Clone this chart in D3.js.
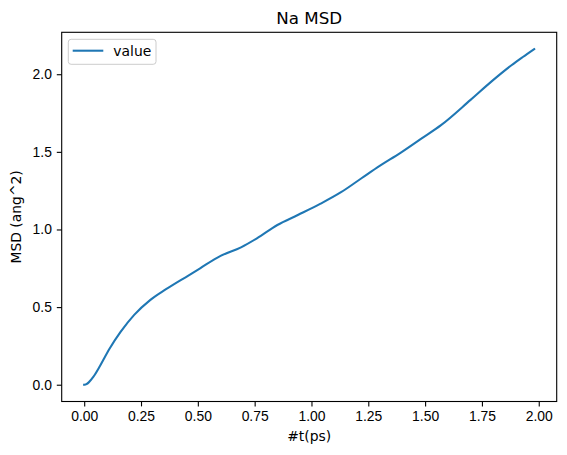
<!DOCTYPE html>
<html>
<head>
<meta charset="utf-8">
<script src="https://cdn.jsdelivr.net/npm/d3@7"></script>
<style>
  body { margin: 0; background: #fff; }
  svg { font-family: "DejaVu Sans", sans-serif; }
  .tick text { font-size: 13.9px; fill: #000; }
  .tick line { stroke: #000; stroke-width: 1.1; }
  .domain { display: none; }
</style>
</head>
<body>
<div id="chart"></div>
<script>
// data (time in ps, MSD in ang^2)
var times = [0, 0.01, 0.02, 0.04, 0.07, 0.11, 0.16, 0.22, 0.29, 0.36, 0.46, 0.51, 0.60, 0.69, 0.76,
             0.85, 0.94, 1.04, 1.13, 1.22, 1.30, 1.39, 1.48, 1.57, 1.70, 1.79, 1.88, 1.93, 1.98];
var msd = [0, 0.004, 0.015, 0.05, 0.122, 0.228, 0.34, 0.45, 0.545, 0.615, 0.705, 0.75, 0.83, 0.885, 0.943,
           1.029, 1.093, 1.166, 1.24, 1.33, 1.41, 1.492, 1.582, 1.672, 1.835, 1.951, 2.058, 2.111, 2.162];
var xTicks = [0, 0.25, 0.5, 0.75, 1.0, 1.25, 1.5, 1.75, 2.0];
var yTicks = [0, 0.5, 1.0, 1.5, 2.0];
var seriesName = "value";

var W = 567, H = 455;
var margin = {top: 32.3, right: 10.3, bottom: 53.5, left: 61.7},
    width = W - margin.left - margin.right,
    height = H - margin.top - margin.bottom;

var svg = d3.select("#chart").append("svg")
    .attr("width", W)
    .attr("height", H);

var g = svg.append("g")
    .attr("transform", "translate(" + margin.left + "," + margin.top + ")");

// matplotlib-style 5% margins
var xmin = d3.min(times), xmax = d3.max(times),
    ymin = d3.min(msd), ymax = d3.max(msd);
var xpad = (xmax - xmin) * 0.05, ypad = (ymax - ymin) * 0.05;

var x = d3.scaleLinear().domain([xmin - xpad, xmax + xpad]).range([0, width]);
var y = d3.scaleLinear().domain([ymin - ypad, ymax + ypad]).range([height, 0]);

// axes
g.append("g")
    .attr("transform", "translate(0," + height + ")")
    .call(d3.axisBottom(x).tickValues(xTicks).tickFormat(d3.format(".2f"))
        .tickSizeInner(4.9).tickSizeOuter(0).tickPadding(4.9));

g.append("g")
    .call(d3.axisLeft(y).tickValues(yTicks).tickFormat(d3.format(".1f"))
        .tickSizeInner(4.9).tickSizeOuter(0).tickPadding(4.9));

// line
var line = d3.line()
    .x(function (d, i) { return x(times[i]); })
    .y(function (d) { return y(d); })
    .curve(d3.curveMonotoneX);

g.append("path")
    .datum(msd)
    .attr("d", line)
    .attr("fill", "none")
    .attr("stroke", "#1f77b4")
    .attr("stroke-width", 2.08)
    .attr("stroke-linecap", "square");

// frame
g.append("rect")
    .attr("width", width)
    .attr("height", height)
    .attr("fill", "none")
    .attr("stroke", "#000")
    .attr("stroke-width", 1.1);

// title and labels
svg.append("text")
    .attr("x", margin.left + width / 2)
    .attr("y", 24)
    .attr("text-anchor", "middle")
    .style("font-size", "16.7px")
    .text("Na MSD");

svg.append("text")
    .attr("x", margin.left + width / 2)
    .attr("y", 440.5)
    .attr("text-anchor", "middle")
    .style("font-size", "13.9px")
    .text("#t(ps)");

svg.append("text")
    .attr("transform", "translate(20.5," + (margin.top + height / 2) + ") rotate(-90)")
    .attr("text-anchor", "middle")
    .style("font-size", "13.9px")
    .text("MSD (ang^2)");

// legend
var leg = g.append("g").attr("transform", "translate(6.6,7)");
leg.append("rect")
    .attr("width", 87.7)
    .attr("height", 25)
    .attr("rx", 2.8)
    .attr("fill", "#fff")
    .attr("fill-opacity", 0.8)
    .attr("stroke", "#ccc");
leg.append("line")
    .attr("x1", 4.4).attr("x2", 35)
    .attr("y1", 11.4).attr("y2", 11.4)
    .attr("stroke", "#1f77b4")
    .attr("stroke-width", 2.08);
leg.append("text")
    .attr("x", 45)
    .attr("y", 16.5)
    .style("font-size", "13.9px")
    .text(seriesName);
</script>
</body>
</html>
